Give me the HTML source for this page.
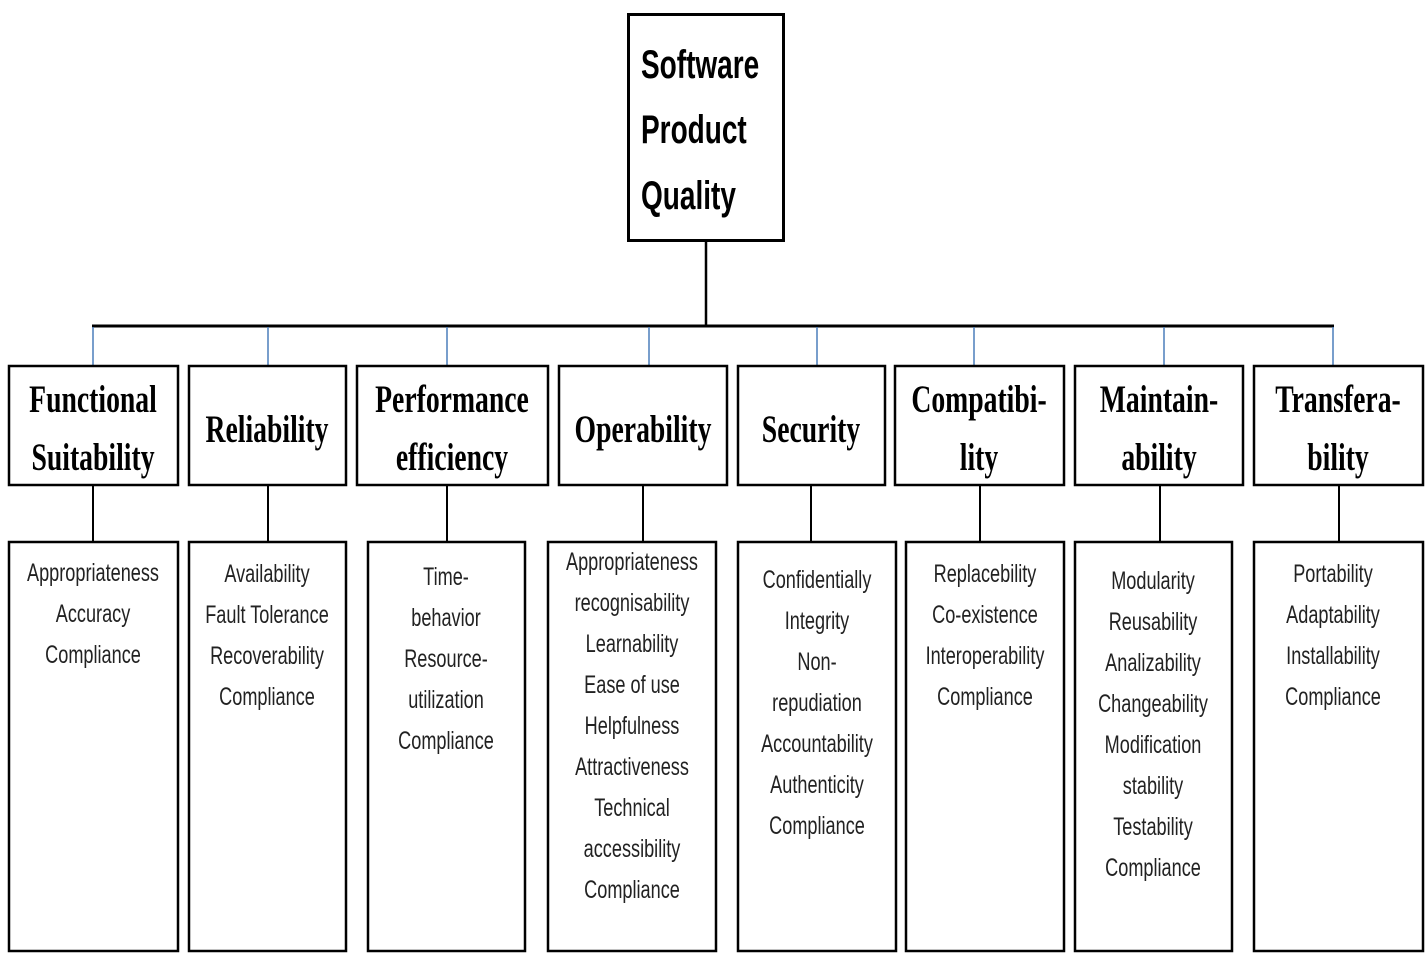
<!DOCTYPE html>
<html><head><meta charset="utf-8"><style>
html,body{margin:0;padding:0;background:#fff;}
svg{display:block;}
.c{font-family:"Liberation Serif",serif;font-weight:bold;font-size:39px;fill:#000;}
.d{font-family:"Liberation Sans",sans-serif;font-size:25px;fill:#222;}
.t{font-family:"Liberation Sans",sans-serif;font-weight:bold;font-size:40px;fill:#000;}
</style></head><body>
<svg width="1428" height="964" viewBox="0 0 1428 964" xmlns="http://www.w3.org/2000/svg">
<rect x="628.5" y="14.5" width="155" height="226" fill="#fff" stroke="#000" stroke-width="3"/>
<text class="t" transform="translate(641,78) scale(0.70,1)">Software</text>
<text class="t" transform="translate(641,143) scale(0.70,1)">Product</text>
<text class="t" transform="translate(641,209) scale(0.70,1)">Quality</text>
<line x1="706" y1="241" x2="706" y2="326" stroke="#000" stroke-width="2.5"/>
<line x1="92" y1="326" x2="1334" y2="326" stroke="#000" stroke-width="3"/>
<g stroke="#4a7ebb" stroke-width="1.5">
<line x1="93" y1="327" x2="93" y2="366"/><line x1="268" y1="327" x2="268" y2="366"/>
<line x1="447" y1="327" x2="447" y2="366"/><line x1="649" y1="327" x2="649" y2="366"/>
<line x1="817" y1="327" x2="817" y2="366"/><line x1="974" y1="327" x2="974" y2="366"/>
<line x1="1164" y1="327" x2="1164" y2="366"/><line x1="1333" y1="327" x2="1333" y2="366"/>
</g>
<g fill="#fff" stroke="#000" stroke-width="2.5">
<rect x="9" y="366" width="169" height="119"/><rect x="189" y="366" width="157" height="119"/>
<rect x="357" y="366" width="191" height="119"/><rect x="559" y="366" width="168" height="119"/>
<rect x="738" y="366" width="147" height="119"/><rect x="895" y="366" width="169" height="119"/>
<rect x="1075" y="366" width="168" height="119"/><rect x="1254" y="366" width="169" height="119"/>
<rect x="9" y="542" width="169" height="409"/><rect x="189" y="542" width="157" height="409"/>
<rect x="368" y="542" width="157" height="409"/><rect x="548" y="542" width="168" height="409"/>
<rect x="738" y="542" width="158" height="409"/><rect x="906" y="542" width="158" height="409"/>
<rect x="1075" y="542" width="157" height="409"/><rect x="1254" y="542" width="169" height="409"/>
</g>
<g stroke="#000" stroke-width="2">
<line x1="93" y1="485" x2="93" y2="542"/><line x1="268" y1="485" x2="268" y2="542"/>
<line x1="447" y1="485" x2="447" y2="542"/><line x1="643" y1="485" x2="643" y2="542"/>
<line x1="811" y1="485" x2="811" y2="542"/><line x1="980" y1="485" x2="980" y2="542"/>
<line x1="1160" y1="485" x2="1160" y2="542"/><line x1="1339" y1="485" x2="1339" y2="542"/>
</g>
<g class="c" text-anchor="middle">
<text transform="translate(93,412) scale(0.71,1)">Functional</text>
<text transform="translate(93,470) scale(0.71,1)">Suitability</text>
<text transform="translate(267,442) scale(0.71,1)">Reliability</text>
<text transform="translate(452,412) scale(0.71,1)">Performance</text>
<text transform="translate(452,470) scale(0.71,1)">efficiency</text>
<text transform="translate(643,442) scale(0.71,1)">Operability</text>
<text transform="translate(811,442) scale(0.71,1)">Security</text>
<text transform="translate(979,412) scale(0.71,1)">Compatibi-</text>
<text transform="translate(979,470) scale(0.71,1)">lity</text>
<text transform="translate(1159,412) scale(0.71,1)">Maintain-</text>
<text transform="translate(1159,470) scale(0.71,1)">ability</text>
<text transform="translate(1338,412) scale(0.71,1)">Transfera-</text>
<text transform="translate(1338,470) scale(0.71,1)">bility</text>
</g>
<g class="d" text-anchor="middle">
<text transform="translate(93,581) scale(0.725,1)">Appropriateness</text>
<text transform="translate(93,622) scale(0.725,1)">Accuracy</text>
<text transform="translate(93,663) scale(0.725,1)">Compliance</text>
<text transform="translate(267,582) scale(0.725,1)">Availability</text>
<text transform="translate(267,623) scale(0.725,1)">Fault Tolerance</text>
<text transform="translate(267,664) scale(0.725,1)">Recoverability</text>
<text transform="translate(267,705) scale(0.725,1)">Compliance</text>
<text transform="translate(446,585) scale(0.725,1)">Time-</text>
<text transform="translate(446,626) scale(0.725,1)">behavior</text>
<text transform="translate(446,667) scale(0.725,1)">Resource-</text>
<text transform="translate(446,708) scale(0.725,1)">utilization</text>
<text transform="translate(446,749) scale(0.725,1)">Compliance</text>
<text transform="translate(632,570) scale(0.725,1)">Appropriateness</text>
<text transform="translate(632,611) scale(0.725,1)">recognisability</text>
<text transform="translate(632,652) scale(0.725,1)">Learnability</text>
<text transform="translate(632,693) scale(0.725,1)">Ease of use</text>
<text transform="translate(632,734) scale(0.725,1)">Helpfulness</text>
<text transform="translate(632,775) scale(0.725,1)">Attractiveness</text>
<text transform="translate(632,816) scale(0.725,1)">Technical</text>
<text transform="translate(632,857) scale(0.725,1)">accessibility</text>
<text transform="translate(632,898) scale(0.725,1)">Compliance</text>
<text transform="translate(817,588) scale(0.725,1)">Confidentially</text>
<text transform="translate(817,629) scale(0.725,1)">Integrity</text>
<text transform="translate(817,670) scale(0.725,1)">Non-</text>
<text transform="translate(817,711) scale(0.725,1)">repudiation</text>
<text transform="translate(817,752) scale(0.725,1)">Accountability</text>
<text transform="translate(817,793) scale(0.725,1)">Authenticity</text>
<text transform="translate(817,834) scale(0.725,1)">Compliance</text>
<text transform="translate(985,582) scale(0.725,1)">Replacebility</text>
<text transform="translate(985,623) scale(0.725,1)">Co-existence</text>
<text transform="translate(985,664) scale(0.725,1)">Interoperability</text>
<text transform="translate(985,705) scale(0.725,1)">Compliance</text>
<text transform="translate(1153,589) scale(0.725,1)">Modularity</text>
<text transform="translate(1153,630) scale(0.725,1)">Reusability</text>
<text transform="translate(1153,671) scale(0.725,1)">Analizability</text>
<text transform="translate(1153,712) scale(0.725,1)">Changeability</text>
<text transform="translate(1153,753) scale(0.725,1)">Modification</text>
<text transform="translate(1153,794) scale(0.725,1)">stability</text>
<text transform="translate(1153,835) scale(0.725,1)">Testability</text>
<text transform="translate(1153,876) scale(0.725,1)">Compliance</text>
<text transform="translate(1333,582) scale(0.725,1)">Portability</text>
<text transform="translate(1333,623) scale(0.725,1)">Adaptability</text>
<text transform="translate(1333,664) scale(0.725,1)">Installability</text>
<text transform="translate(1333,705) scale(0.725,1)">Compliance</text>
</g>
</svg>
</body></html>
